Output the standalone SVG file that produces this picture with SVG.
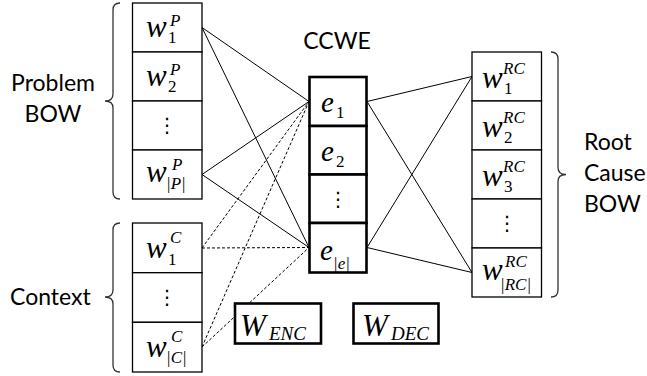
<svg xmlns="http://www.w3.org/2000/svg" width="647" height="376" viewBox="0 0 647 376">
<style>
.cell{fill:#fff;stroke:#000;stroke-width:1.3}
.thick{fill:#fff;stroke:#000;stroke-width:2.6}
.m{font-family:"Liberation Serif","Times New Roman",serif;font-style:italic;font-size:31px;fill:#000}
.e{font-size:29px}
.s{font-size:17px}
.n{font-style:normal}
.dots{font-family:"DejaVu Sans",sans-serif;font-size:20px;text-anchor:middle}
.lbl{font-family:Lato,"Open Sans",sans-serif;font-size:23px;fill:#000}
.con{stroke:#000;stroke-width:1;fill:none}
.dash{stroke-dasharray:3 2}
.brace{fill:none;stroke:#333;stroke-width:1.3}
</style>
<rect width="647" height="376" fill="#fff"/>
<g id="connectors">
<line class="con" x1="202" y1="27.5" x2="309" y2="101.5"/>
<line class="con" x1="202" y1="27.5" x2="309" y2="247.5"/>
<line class="con" x1="202" y1="174.5" x2="309" y2="101.5"/>
<line class="con" x1="202" y1="174.5" x2="309" y2="247.5"/>
<line class="con dash" x1="202" y1="248" x2="309" y2="101.5"/>
<line class="con dash" x1="202" y1="248" x2="309" y2="247.5"/>
<line class="con dash" x1="202" y1="347" x2="309" y2="101.5"/>
<line class="con dash" x1="202" y1="347" x2="309" y2="247.5"/>
<line class="con" x1="367" y1="101.5" x2="472" y2="76.5"/>
<line class="con" x1="367" y1="101.5" x2="472" y2="272.5"/>
<line class="con" x1="367" y1="247.5" x2="472" y2="76.5"/>
<line class="con" x1="367" y1="247.5" x2="472" y2="272.5"/>
</g>
<g id="problem-bow">
<path class="brace" d="M120,3 Q113,3 113,10 L113,94 Q113,101 105,101 Q113,101 113,108 L113,192 Q113,199 120,199"/>
<text class="lbl" x="53" y="91" text-anchor="middle">Problem</text>
<text class="lbl" x="53" y="122" text-anchor="middle">BOW</text>
<rect class="cell" x="132.5" y="3" width="69.5" height="49"/>
<rect class="cell" x="132.5" y="52" width="69.5" height="49"/>
<rect class="cell" x="132.5" y="101" width="69.5" height="49"/>
<rect class="cell" x="132.5" y="150" width="69.5" height="49"/>
<text class="m" x="146" y="37">w</text><text class="m s" x="170" y="26">P</text><text class="m s n" x="168" y="43">1</text>
<text class="m" x="146" y="86">w</text><text class="m s" x="170" y="75">P</text><text class="m s n" x="168" y="92">2</text>
<text class="dots" x="167" y="132">⋮</text>
<text class="m" x="146" y="182">w</text><text class="m s" x="172" y="170">P</text><text class="m s" x="166" y="189">|P|</text>
</g>
<g id="context">
<path class="brace" d="M120,223 Q113,223 113,230 L113,290 Q113,297 105,297 Q113,297 113,304 L113,365 Q113,372 120,372"/>
<text class="lbl" x="10" y="305">Context</text>
<rect class="cell" x="132.5" y="223" width="69.5" height="49.7"/>
<rect class="cell" x="132.5" y="272.7" width="69.5" height="49.6"/>
<rect class="cell" x="132.5" y="322.3" width="69.5" height="49.7"/>
<text class="m" x="146" y="258">w</text><text class="m s" x="170" y="243">C</text><text class="m s n" x="168" y="265">1</text>
<text class="dots" x="167" y="304">⋮</text>
<text class="m" x="146" y="357">w</text><text class="m s" x="171" y="342">C</text><text class="m s" x="166" y="363">|C|</text>
</g>
<g id="ccwe">
<text class="lbl" x="337" y="49" text-anchor="middle">CCWE</text>
<rect class="thick" x="309.5" y="77" width="57" height="49"/>
<rect class="thick" x="309.5" y="126" width="57" height="48.5"/>
<rect class="thick" x="309.5" y="174.5" width="57" height="48.5"/>
<rect class="thick" x="309.5" y="223" width="57" height="49.5"/>
<text class="m e" x="321" y="112">e</text><text class="m s n" x="336" y="118">1</text>
<text class="m e" x="321" y="161">e</text><text class="m s n" x="336" y="167">2</text>
<text class="dots" x="338" y="206">⋮</text>
<text class="m e" x="320" y="260">e</text><text class="m s" x="333" y="269">|e|</text>
</g>
<g id="root-cause-bow">
<rect class="cell" x="472" y="52" width="69.5" height="49"/>
<rect class="cell" x="472" y="101" width="69.5" height="49"/>
<rect class="cell" x="472" y="150" width="69.5" height="49"/>
<rect class="cell" x="472" y="199" width="69.5" height="49"/>
<rect class="cell" x="472" y="248" width="69.5" height="49"/>
<text class="m" x="482" y="88">w</text><text class="m s" x="503" y="74">RC</text><text class="m s n" x="504" y="94">1</text>
<text class="m" x="482" y="137">w</text><text class="m s" x="503" y="123">RC</text><text class="m s n" x="504" y="143">2</text>
<text class="m" x="482" y="186">w</text><text class="m s" x="503" y="172">RC</text><text class="m s n" x="504" y="192">3</text>
<text class="dots" x="507" y="230">⋮</text>
<text class="m" x="482" y="280">w</text><text class="m s" x="505" y="267">RC</text><text class="m s" x="500" y="290">|RC|</text>
<path class="brace" d="M551,52 Q558,52 558,59 L558,167.5 Q558,174.5 566,174.5 Q558,174.5 558,181.5 L558,290 Q558,297 551,297"/>
<text class="lbl" x="584" y="150">Root</text>
<text class="lbl" x="584" y="181">Cause</text>
<text class="lbl" x="584" y="212">BOW</text>
</g>
<g id="w-enc">
<rect class="thick" x="235" y="303.5" width="86" height="40"/>
<text class="m" x="240" y="336" style="font-size:31px">W</text><text class="m" x="269" y="340" style="font-size:19px">ENC</text>
</g>
<g id="w-dec">
<rect class="thick" x="353.5" y="303.5" width="85" height="40"/>
<text class="m" x="362" y="336" style="font-size:31px">W</text><text class="m" x="391" y="340" style="font-size:19px">DEC</text>
</g>
</svg>
